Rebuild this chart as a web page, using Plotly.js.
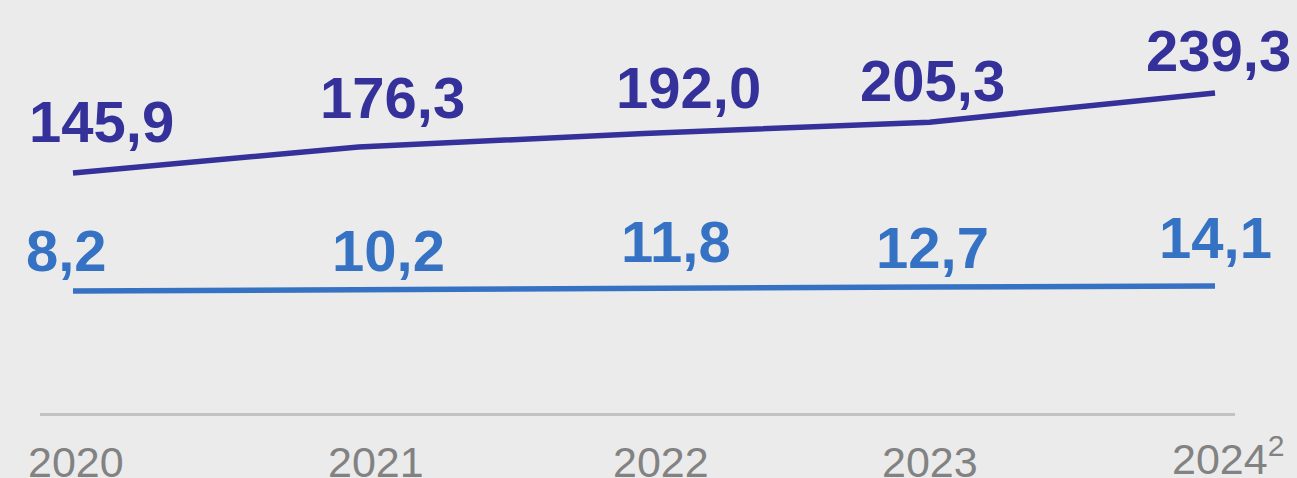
<!DOCTYPE html>
<html>
<head>
<meta charset="utf-8">
<script src="https://cdn.plot.ly/plotly-3.0.1.min.js"></script>
<style>
  html, body { margin: 0; padding: 0; background: #ebebeb; }
  #chart { width: 1297px; height: 478px; }
</style>
</head>
<body>
<div id="chart"></div>
<script>
// ---- data ----
const years = ['2020', '2021', '2022', '2023', '2024'];
const tickLabels = ['2020', '2021', '2022', '2023', '2024<sup>2</sup>'];
const seriesTop = [145.9, 176.3, 192.0, 205.3, 239.3];
const seriesBottom = [8.2, 10.2, 11.8, 12.7, 14.1];

// ---- styles (label placement in pixels) ----
const topColor = '#35319a';
const bottomColor = '#3672c4';
const topLabelDx = [28, 34, 44, 3, 3];
const topLabelDy = [52, 49, 46, 42, 43];
const botLabelDx = [-7, 30, 32, 3, 0];
const botLabelDy = [40, 39, 46, 40, 48];
const tickDx = [3, 17, 17, 0, -45];
const tickDy = [-23, -23, -23, -23, -14];
const tickAnchor = ['center', 'center', 'center', 'center', 'left'];

function fmt(v) { return v.toFixed(1).replace('.', ','); }

const traces = [
  { x: years, y: seriesTop, type: 'scatter', mode: 'lines',
    line: { color: topColor, width: 5.5 }, hoverinfo: 'skip' },
  { x: years, y: seriesBottom, type: 'scatter', mode: 'lines',
    line: { color: bottomColor, width: 5.5 }, hoverinfo: 'skip' }
];

const FONT = 'Liberation Sans, Arial, sans-serif';
const annotations = [];
seriesTop.forEach((v, i) => {
  annotations.push({ x: i, y: v, xref: 'x', yref: 'y', text: '<b>' + fmt(v) + '</b>',
    showarrow: false, xanchor: 'center', yanchor: 'middle', xshift: topLabelDx[i], yshift: topLabelDy[i],
    font: { family: FONT, size: 58, color: topColor } });
});
seriesBottom.forEach((v, i) => {
  annotations.push({ x: i, y: v, xref: 'x', yref: 'y', text: '<b>' + fmt(v) + '</b>',
    showarrow: false, xanchor: 'center', yanchor: 'middle', xshift: botLabelDx[i], yshift: botLabelDy[i],
    font: { family: FONT, size: 58, color: bottomColor } });
});
tickLabels.forEach((t, i) => {
  annotations.push({ x: i, y: 0, xref: 'x', yref: 'paper', text: t,
    showarrow: false, xanchor: tickAnchor[i], yanchor: 'top', xshift: tickDx[i], yshift: tickDy[i],
    font: { family: FONT, size: 43, color: '#828282' } });
});

const layout = {
  width: 1297, height: 478,
  margin: { l: 40, r: 62, t: 0, b: 65 },
  paper_bgcolor: '#ebebeb', plot_bgcolor: '#ebebeb',
  showlegend: false,
  xaxis: { type: 'category', range: [-0.1156, 4.07], showgrid: false, zeroline: false,
    showticklabels: false, ticks: '', showline: true, linecolor: '#c2c2c2', linewidth: 3 },
  yaxis: { range: [-134.3, 347.9], showgrid: false, zeroline: false, showticklabels: false,
    ticks: '', showline: false },
  annotations: annotations
};

Plotly.newPlot('chart', traces, layout, { displayModeBar: false });
</script>
</body>
</html>
